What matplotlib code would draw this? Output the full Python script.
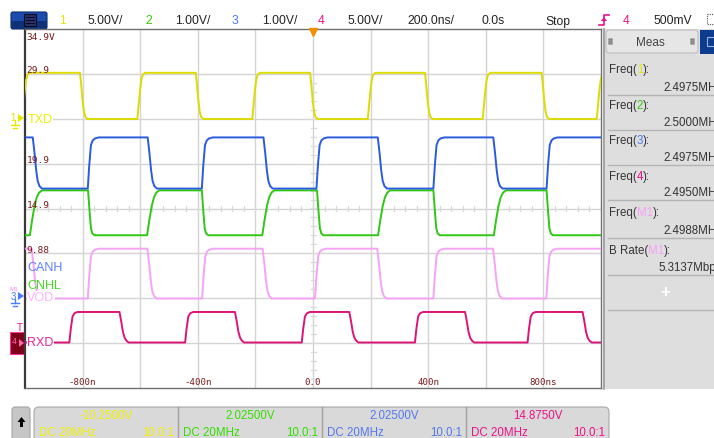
#!/usr/bin/env python3

import matplotlib
matplotlib.use("Agg")
import matplotlib.pyplot as plt
from matplotlib.patches import Rectangle, FancyBboxPatch, Polygon

W, H = 714, 439

# screen scales: 200ns/div horizontally, 5V/div on the label scale, 8 div high
t_min, t_max = -1000.0, 1000.0
v_top = 34.88
v_bot = v_top - 40.0

grid_t = [-800, -600, -400, -200, 0, 200, 400, 600, 800]
grid_v = [29.88, 24.88, 19.88, 14.88, 9.88, 4.88, -0.12]
xtick_pos = [-800, -400, 0, 400, 800]
xtick_labels = ["-800n", "-400n", "0.0", "400n", "800ns"]
ylab_pos = [29.88, 19.88, 14.88, 9.88]
ylab_text = ["29.9", "19.9", "14.9", "9.88"]

# edge start times (ns)
txd_rise = [-1010, -610, -211, 190, 589, 985]
txd_fall = [-809, -407, -10, 389, 794]
canh_rise = [-782, -386, 12, 418, 811]
canh_fall = [-973, -574, -172, 225, 626]
canl_rise = [-983, -576, -176, 226, 628]
canl_fall = [-781, -386, 14, 418, 811]
vod_rise = [-782, -385, 7, 418, 810]
vod_fall = [-977, -575, -175, 223, 625]
rxd_rise = [-846, -444, -39, 354, 745]
rxd_fall = [-672, -271, 126, 528, 936]

# (low, high) levels on the screen scale
txd_levels = (24.85, 30.0)
canh_levels = (17.1, 22.8)
canl_levels = (11.9, 16.9)
vod_levels = (4.85, 10.4)
rxd_levels = (-0.05, 3.35)

# edge shapes: time offsets (ns) and fraction of the swing done
txd_edge = ([0, 4, 9, 14, 19, 27], [0, 0.25, 0.6, 0.85, 0.96, 1.0])
canh_up = ([0, 5, 11, 17, 25, 38], [0, 0.45, 0.85, 0.94, 0.98, 1.0])
canh_dn = ([0, 6, 12, 17, 23, 32], [0, 0.3, 0.65, 0.85, 0.95, 1.0])
canl_up = ([0, 8, 16, 24, 32, 42], [0, 0.35, 0.65, 0.85, 0.95, 1.0])
canl_dn = ([0, 5, 10, 15, 22], [0, 0.45, 0.85, 0.96, 1.0])
rxd_up = ([0, 5, 11, 18, 28], [0, 0.45, 0.85, 0.96, 1.0])
rxd_dn = ([0, 6, 12, 18, 25, 32], [0, 0.3, 0.65, 0.85, 0.95, 1.0])

meas_names = [("Freq(", "1", "):"), ("Freq(", "2", "):"), ("Freq(", "3", "):"),
              ("Freq(", "4", "):"), ("Freq(", "M1", "):"), ("B Rate(", "M1", "):")]
meas_values = ["2.4975MHz", "2.5000MHz", "2.4975MHz", "2.4950MHz", "2.4988MHz", "5.3137Mbps"]
meas_colors = ["#e6e600", "#33cc00", "#4a78ff", "#ee1188", "#f7a0f7", "#f7a0f7"]

ch_offsets = ["-10.2500V", "2.02500V", "2.02500V", "14.8750V"]
ch_colors = ["#f0f000", "#33dd00", "#5577ee", "#ee1188"]

UI_FONT = "Liberation Sans"
MONO = "DejaVu Sans Mono"
LABEL_RED = "#7b1c1c"


def build_trace(rises, falls, levels, up_shape, dn_shape):
    lo, hi = levels
    edges = sorted([(t, True) for t in rises] + [(t, False) for t in falls])
    state = not edges[0][1]
    ts = [t_min - 30]
    vs = [hi if state else lo]
    for t0, up in edges:
        dts, fr = up_shape if up else dn_shape
        for dt, f in zip(dts, fr):
            ts.append(t0 + dt)
            vs.append(lo + f * (hi - lo) if up else hi - f * (hi - lo))
        state = up
    ts.append(t_max + 30)
    vs.append(hi if state else lo)
    return ts, vs


fig = plt.figure(figsize=(W / 100, H / 100), dpi=100)
fig.patch.set_facecolor("white")

# background / chrome axes in pixel units
ui = fig.add_axes([0, 0, 1, 1], zorder=0)
ui.set_xlim(0, W)
ui.set_ylim(H, 0)
ui.axis("off")

# scope screen
ax = fig.add_axes([25 / W, 1 - 389 / H, 576 / W, 359 / H], zorder=1)
ax.set_xlim(t_min, t_max)
ax.set_ylim(v_bot, v_top)
ax.set_xticks([])
ax.set_yticks([])
ax.set_facecolor("white")
for s in ax.spines.values():
    s.set_color("#707070")
    s.set_linewidth(1.0)
ax.spines["left"].set_color("#3a3a3a")
ax.spines["left"].set_linewidth(1.6)

for t in grid_t:
    ax.axvline(t, color="#d4d4d4", lw=1.0, zorder=1)
for v in grid_v:
    ax.axhline(v, color="#d4d4d4", lw=1.0, zorder=1)

# minor ticks on the centre cross
dv = 2.5 * 40 / 359
dt = 2.5 * 2000 / 576
for k in range(-25, 26):
    t = k * 40
    ax.plot([t, t], [14.88 - dv, 14.88 + dv], color="#dadada", lw=0.9, zorder=1)
for k in range(-5, 36):
    v = v_bot + k * 1.0
    ax.plot([-dt, dt], [v, v], color="#dadada", lw=0.9, zorder=1)

# traces
traces = [
    (txd_rise, txd_fall, txd_levels, txd_edge, txd_edge, "#dcdc00"),
    (canl_rise, canl_fall, canl_levels, canl_up, canl_dn, "#2ec814"),
    (canh_rise, canh_fall, canh_levels, canh_up, canh_dn, "#2a5bdc"),
    (vod_rise, vod_fall, vod_levels, canh_up, canh_dn, "#f5a3f5"),
    (rxd_rise, rxd_fall, rxd_levels, rxd_up, rxd_dn, "#dc1478"),
]
for rises, falls, levels, ups, dns, col in traces:
    ts, vs = build_trace(rises, falls, levels, ups, dns)
    ax.plot(ts, vs, color=col, lw=1.4, zorder=3, solid_joinstyle="round")

# value labels on the screen
ax.text(-994, v_top - 0.8, "34.9V", ha="left", va="center", fontsize=6.8,
        family=MONO, color=LABEL_RED, zorder=4)
for v, s in zip(ylab_pos, ylab_text):
    ax.text(-994, v + 0.45, s, ha="left", va="center", fontsize=6.8,
            family=MONO, color=LABEL_RED, zorder=4)
for t, s in zip(xtick_pos, xtick_labels):
    ax.text(t, v_bot + 0.7, s, ha="center", va="center", fontsize=6.6,
            family=MONO, color=LABEL_RED, zorder=4)

# channel names
box = dict(facecolor="white", edgecolor="none", pad=0.3)
ax.text(-992, 24.88, "TXD", ha="left", va="center", fontsize=9, family=UI_FONT,
        color="#eeee00", bbox=box, zorder=4)
ax.text(-992, 8.36, "CANH", ha="left", va="center", fontsize=9, family=UI_FONT,
        color="#5b7fff", zorder=4)
ax.text(-992, 6.36, "CNHL", ha="left", va="center", fontsize=9, family=UI_FONT,
        color="#44dd22", zorder=4)
ax.text(-992, 5.0, "VOD", ha="left", va="center", fontsize=9, family=UI_FONT,
        color="#ffb3ff", bbox=box, zorder=4)
ax.text(-992, -0.05, "RXD", ha="left", va="center", fontsize=9, family=UI_FONT,
        color="#ee2299", bbox=box, zorder=4)

# trigger position marker
ax.plot([0], [v_top - 0.35], marker="v", ms=6, color="#f39000", clip_on=False, zorder=6)

# ---- top status bar ----
ui.add_patch(FancyBboxPatch((11, 13), 36, 17, boxstyle="round,pad=0,rounding_size=2",
                            fc="#1d4cae", ec="#0c2d6a", lw=0.8))
ui.add_patch(Rectangle((11, 22), 36, 8, fc="#0d3278", ec="none"))
ui.add_patch(Rectangle((24, 15), 12, 12, fc="#27306a", ec="#0a0a20", lw=0.8))
for yy in [18, 21, 24]:
    ui.plot([26, 34], [yy, yy], color="#0a0a20", lw=0.7)

top_items = [(62, "1", "#e6e600", "center"), (88, "5.00V/", "#222222", "left"),
             (149, "2", "#33cc00", "center"), (175, "1.00V/", "#222222", "left"),
             (235, "3", "#4a78ff", "center"), (262, "1.00V/", "#222222", "left"),
             (321, "4", "#ee1188", "center"), (347, "5.00V/", "#222222", "left"),
             (407, "200.0ns/", "#222222", "left"), (482, "0.0s", "#222222", "left"),
             (545, "Stop", "#222222", "left"), (626, "4", "#ee1188", "center"),
             (653, "500mV", "#222222", "left")]
for x, s, c, ha in top_items:
    ui.text(x, 21.5, s, ha=ha, va="center", fontsize=8.7, family=UI_FONT, color=c)
# trigger edge symbol
ui.plot([599, 604, 604, 609], [26, 26, 16, 16], color="#ee1188", lw=1.2)
ui.add_patch(Polygon([[601, 22], [607, 22], [604, 18]], closed=True, fc="#ee1188", ec="none"))
ui.add_patch(Rectangle((707, 15), 10, 10, fc="none", ec="#555555", lw=0.8, ls=(0, (1, 1))))

# ---- left channel markers ----
ui.text(13, 118, "1", ha="center", va="center", fontsize=7, family=UI_FONT, color="#e6e600")
ui.add_patch(Polygon([[18, 115], [24, 119], [18, 123]], closed=True, fc="#e6e600", ec="none"))
ui.plot([15, 15], [121, 126], color="#e6e600", lw=1)
ui.plot([11, 19], [126, 126], color="#e6e600", lw=1)
ui.plot([13, 17], [128.5, 128.5], color="#e6e600", lw=1)

ui.text(14, 290, "M1", ha="center", va="center", fontsize=4.5, family=UI_FONT, color="#f090f0")
ui.text(13, 297, "3", ha="center", va="center", fontsize=7, family=UI_FONT, color="#4a78ff")
ui.add_patch(Polygon([[18, 293], [24, 297], [18, 301]], closed=True, fc="#4a78ff", ec="none"))
ui.plot([15, 15], [300, 304], color="#4a78ff", lw=1)
ui.plot([11, 19], [304, 304], color="#4a78ff", lw=1)
ui.plot([13, 17], [306.5, 306.5], color="#4a78ff", lw=1)

ui.text(20, 328, "T", ha="center", va="center", fontsize=7, family=UI_FONT, color="#ee1188")
ui.add_patch(Rectangle((10, 333), 14, 22, fc="#7a0018", ec="#ff3399", lw=0.8))
ui.text(14, 342, "4", ha="center", va="center", fontsize=6.5, family=UI_FONT, color="#ff66aa")
ui.add_patch(Polygon([[19, 340], [24, 344], [19, 348]], closed=True, fc="#ff66aa", ec="none"))

# ---- right measurement panel ----
ui.add_patch(Rectangle((603, 30), 112, 360, fc="#dedede", ec="none"))
ui.plot([603.5, 603.5], [30, 390], color="#9a9a9a", lw=1.2)
ui.add_patch(FancyBboxPatch((606, 31), 92, 23, boxstyle="round,pad=0,rounding_size=3",
                            fc="#e6e6e6", ec="#bdbdbd", lw=0.8))
ui.text(650, 43, "Meas", ha="center", va="center", fontsize=8.5, family=UI_FONT, color="#444444")
for gx in [609, 691]:
    for dx in [0, 2]:
        for dy in [0, 2, 4]:
            ui.plot(gx + dx, 40 + dy, marker="s", ms=0.8, color="#888888")
ui.add_patch(Rectangle((700, 31), 15, 24, fc="#0d3b8e", ec="none"))
ui.add_patch(Rectangle((707, 38), 8, 9, fc="none", ec="#9db4e0", lw=0.8))

rend = fig.canvas.get_renderer()
label_y = [70, 106, 141, 177, 213, 251]
value_y = [88, 123, 158, 193, 231, 268]
value_x = [663, 663, 663, 663, 663, 658]
sep_y = [96, 131, 166, 201, 239, 276, 311]
for (a, b, c), col, ly in zip(meas_names, meas_colors, label_y):
    x = 609
    for s, cc in [(a, "#333333"), (b, col), (c, "#333333")]:
        txt = ui.text(x, ly, s, ha="left", va="center", fontsize=8.3, family=UI_FONT, color=cc)
        x += txt.get_window_extent(renderer=rend).width
for s, vx, vy in zip(meas_values, value_x, value_y):
    ui.text(vx, vy, s, ha="left", va="center", fontsize=8.3, family=UI_FONT, color="#333333")
for sy in sep_y:
    ui.plot([608, 714], [sy, sy], color="#b4b4b4", lw=1.0)
ui.text(665, 293, "+", ha="center", va="center", fontsize=12, fontweight="bold",
        family=UI_FONT, color="white")

# ---- bottom channel bar ----
ui.add_patch(FancyBboxPatch((12, 408), 18, 40, boxstyle="round,pad=0,rounding_size=3",
                            fc="#c6c6c6", ec="#a4a4a4", lw=0.8))
ui.add_patch(Polygon([[21.5, 418], [17.5, 423], [25.5, 423]], closed=True, fc="black", ec="none"))
ui.add_patch(Rectangle((20.3, 422), 2.4, 6, fc="black", ec="none"))
ui.add_patch(FancyBboxPatch((34, 408), 575, 45, boxstyle="round,pad=0,rounding_size=5",
                            fc="#d9d9d9", ec="#a8a8a8", lw=0.8))
cell_edges = [34, 177.7, 321.7, 466, 609]
for x in cell_edges[1:-1]:
    ui.plot([x, x], [408, 439], color="#a0a0a0", lw=1.0)
for i in range(4):
    x0, x1 = cell_edges[i], cell_edges[i + 1]
    ui.text((x0 + x1) / 2, 416.5, ch_offsets[i], ha="center", va="center", fontsize=8.3,
            family=UI_FONT, color=ch_colors[i])
    ui.text(x0 + 5, 433, "DC 20MHz", ha="left", va="center", fontsize=8.3,
            family=UI_FONT, color=ch_colors[i])
    ui.text(x1 - 4, 433, "10.0:1", ha="right", va="center", fontsize=8.3,
            family=UI_FONT, color=ch_colors[i])

fig.savefig("out.png", dpi=100)
